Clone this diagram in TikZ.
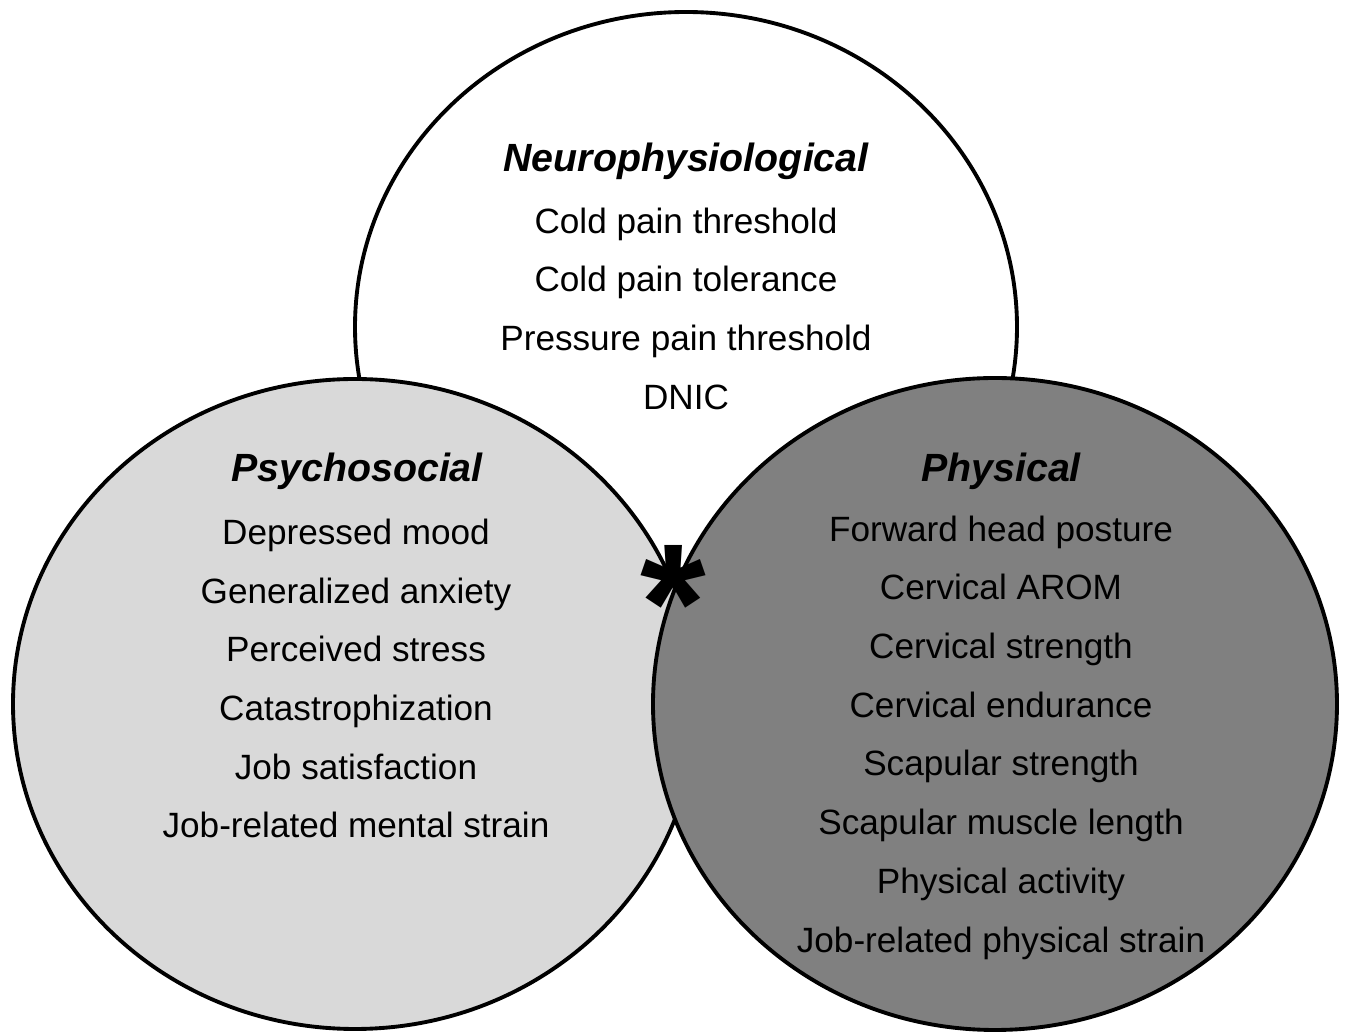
\documentclass[tikz,border=0pt]{standalone}
\usepackage{fontspec}
\setmainfont{Liberation Sans}
\usepackage{xcolor}
\usetikzlibrary{positioning}

\definecolor{psygray}{HTML}{D9D9D9}
\definecolor{phygray}{HTML}{808080}

\begin{document}
\begin{tikzpicture}[
          x=1cm, y=1cm,
          blob/.style={draw=black, line width=1.1pt},
          head/.style={font=\fontsize{11.2}{13}\selectfont\bfseries\itshape},
          items/.style={align=center, font=\fontsize{10}{16.7}\selectfont}
      ]
        \useasboundingbox (0,0) rectangle (13.47,10.33);
        % the three domains
        \draw[blob, fill=white] (6.86,7.06) ellipse [x radius=3.31, y radius=3.15];
        \draw[blob, fill=psygray] (3.55,3.29) ellipse [x radius=3.42, y radius=3.25];
        \draw[blob, fill=phygray] (9.95,3.29) ellipse [x radius=3.42, y radius=3.26];
        % neurophysiological
        \node[head] (neurohead) at (6.86,8.72) {Neurophysiological};
        \node[items] (neurolist) at (6.86,7.245) {Cold pain threshold\\Cold pain tolerance\\Pressure pain threshold\\DNIC};
        % psychosocial
        \node[head] (psyhead) at (3.57,5.62) {Psychosocial};
        \node[items] (psylist) at (3.56,3.545) {Depressed mood\\Generalized anxiety\\Perceived stress\\Catastrophization\\Job satisfaction\\Job-related mental strain};
        % physical
        \node[head] (phyhead) at (10.01,5.62) {Physical};
        \node[items] (phylist) at (10.01,2.955) {Forward head posture\\Cervical AROM\\Cervical strength\\Cervical endurance\\Scapular strength\\Scapular muscle length\\Physical activity\\Job-related physical strain};
        % overlap mark
        \node[font=\fontsize{48}{48}\selectfont\bfseries, inner sep=0pt] (star) at (6.73,4.3) {*};
      \end{tikzpicture}
\end{document}
